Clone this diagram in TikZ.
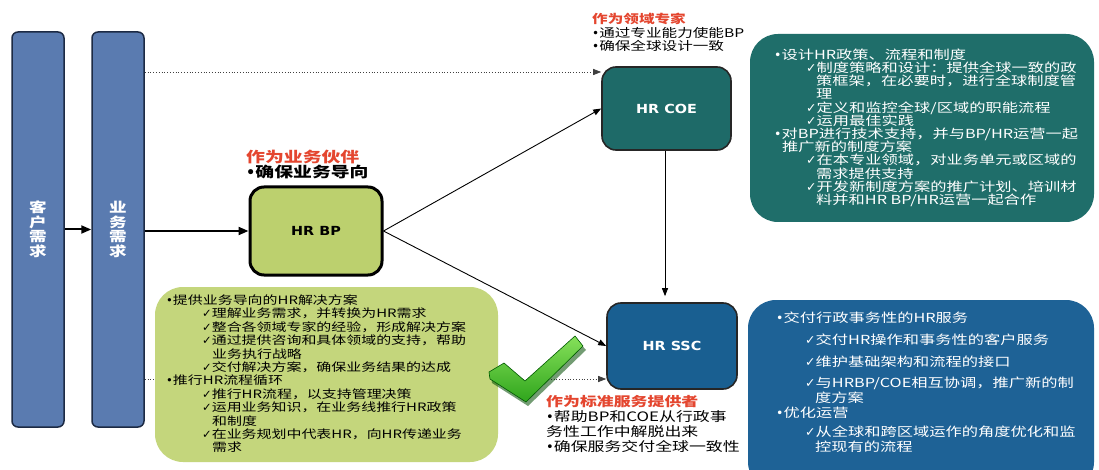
\documentclass[tikz,border=0pt]{standalone}
\usepackage{fontspec}
\usetikzlibrary{arrows.meta}
\newfontfamily\cjkA[FakeStretch=1.3]{Noto Sans CJK SC}
\newfontfamily\symf{DejaVu Sans}
\newfontfamily\latf[FakeStretch=1.15]{DejaVu Sans}
\newcommand{\ck}{{\symf ✓}}
\newcommand{\bu}{{\symf •}}
\newcommand{\ind}[1]{\hspace*{#1pt}}
\definecolor{barblue}{HTML}{5A7BB0}
\definecolor{bardark}{HTML}{1C2A44}
\definecolor{bpgreen}{HTML}{BCD06E}
\definecolor{bpdet}{HTML}{C4D67C}
\definecolor{coeteal}{HTML}{1E6A68}
\definecolor{coedet}{HTML}{1F6E6A}
\definecolor{sscblue}{HTML}{195F91}
\definecolor{sscdet}{HTML}{1E6296}
\definecolor{lblred}{HTML}{E4462F}
\definecolor{chkhi}{HTML}{86E05A}
\definecolor{chklo}{HTML}{2FA51C}
\begin{document}
\begin{tikzpicture}[x=1pt,y=-1pt,
  bar/.style={draw=bardark, line width=1.5pt, fill=barblue, rounded corners=6pt,
    minimum width=52pt, minimum height=395pt, inner sep=0pt, align=center,
    text=white, font=\cjkA\bfseries\fontsize{13.5}{14.5}\selectfont},
  bpbox/.style={draw=black, line width=3pt, fill=bpgreen, rounded corners=14pt,
    minimum width=132pt, minimum height=88pt, inner sep=0pt,
    font=\latf\bfseries\fontsize{12.5}{14}\selectfont},
  hrbox/.style={draw=black!85, line width=1.6pt, rounded corners=14pt, inner sep=0pt,
    text=white, font=\latf\bfseries\fontsize{12.5}{14}\selectfont},
  detail/.style={rounded corners=28pt, inner sep=0pt},
  txt/.style={inner sep=0pt, align=left, anchor=north west},
  thickarrow/.style={line width=2pt, -{Triangle[length=10pt,width=8pt]}},
  thinarrow/.style={line width=0.9pt, -{Triangle[length=8pt,width=6pt]}},
  dotarrow/.style={line width=0.8pt, dotted, black!75, -{Triangle[length=8pt,width=6pt]}}
]
\useasboundingbox (0,0) rectangle (1099,470);
\fill[white] (0,0) rectangle (1099,470);

% helper coordinates for horizontal levels
\coordinate (ytop) at (0,72);
\coordinate (ybot) at (0,379);
\coordinate (xv) at (665,0);

% bars
\node[bar] (bar1) at (38,229.5) {客\\户\\需\\求};
\node[bar] (bar2) at (118,229.5) {业\\务\\需\\求};

% main HR boxes
\node[bpbox] (bp) at (316,231) {HR BP};
\node[hrbox, fill=coeteal, minimum width=129pt, minimum height=83pt] (coe) at (666.5,108.5) {HR COE};
\node[hrbox, fill=sscblue, minimum width=130pt, minimum height=86pt] (ssc) at (672,346) {HR SSC};

% dotted connectors (behind detail box)
\draw[dotarrow] (bar2.east |- ytop) -- (coe.west |- ytop);
\draw[dotarrow] (bar2.east |- ybot) -- (ssc.west |- ybot);

% detail boxes
\node[detail, fill=bpdet, minimum width=343pt, minimum height=175pt] (bpd) at (326.5,374.5) {};
\node[detail, fill=coedet, minimum width=344pt, minimum height=188pt] (coed) at (922,128) {};
\begin{scope}
\clip (0,0) rectangle (1099,470);
\node[detail, fill=sscdet, minimum width=346pt, minimum height=190pt] (sscd) at (921,395) {};
\end{scope}

% solid connectors
\draw[thickarrow] (bar1.east) -- (bar2.west);
\draw[thickarrow] (bar2.east |- bp.west) -- (bp.west);
\draw[thinarrow] (bp.east) -- (coe.west);
\draw[thinarrow] (bp.east) -- (ssc.west);
\draw[thinarrow, shorten >=6pt] (xv |- coe.south) -- (xv |- ssc.north);

% labels
\node[txt, font=\cjkA\bfseries\fontsize{14.5}{15}\selectfont] (bplbl) at (246,150)
  {\textcolor{lblred}{作为业务伙伴}\\\bu 确保业务导向};
\node[txt, font=\cjkA\fontsize{12}{13.5}\selectfont] (coelbl) at (592,13)
  {\textcolor{lblred}{\bfseries 作为领域专家}\\\bu 通过专业能力使能BP\\\bu 确保全球设计一致};
\node[txt, font=\cjkA\fontsize{13}{15}\selectfont] (ssclbl) at (546,395.5)
  {\textcolor{lblred}{\bfseries 作为标准服务提供者}\\\bu 帮助BP和COE从行政事\\务性工作中解脱出来\\\bu 确保服务交付全球一致性};

% BP detail text
\node[txt, font=\cjkA\fontsize{11.5}{13.4}\selectfont] (bpt) at (166,294.5) {%
\bu 提供业务导向的HR解决方案\\
\ind{36}\ck 理解业务需求，并转换为HR需求\\
\ind{36}\ck 整合各领域专家的经验，形成解决方案\\
\ind{36}\ck 通过提供咨询和具体领域的支持，帮助\\
\ind{46}业务执行战略\\
\ind{36}\ck 交付解决方案，确保业务结果的达成\\
\bu 推行HR流程循环\\
\ind{36}\ck 推行HR流程，以支持管理决策\\
\ind{36}\ck 运用业务知识，在业务线推行HR政策\\
\ind{46}和制度\\
\ind{36}\ck 在业务规划中代表HR，向HR传递业务\\
\ind{46}需求};

% COE detail text
\node[txt, text=white, font=\cjkA\fontsize{12.5}{13.2}\selectfont] (coet) at (774,48.5) {%
\bu 设计HR政策、流程和制度\\
\ind{32}\ck 制度策略和设计：提供全球一致的政\\
\ind{42}策框架，在必要时，进行全球制度管\\
\ind{42}理\\
\ind{32}\ck 定义和监控全球/区域的职能流程\\
\ind{32}\ck 运用最佳实践\\
\bu 对BP进行技术支持，并与BP/HR运营一起\\
\ind{8}推广新的制度方案\\
\ind{32}\ck 在本专业领域，对业务单元或区域的\\
\ind{42}需求提供支持\\
\ind{32}\ck 开发新制度方案的推广计划、培训材\\
\ind{42}料并和HR BP/HR运营一起合作};

% SSC detail text
\node[txt, text=white, font=\cjkA\fontsize{12.5}{15}\selectfont] (ssct) at (776,312) {%
\bu 交付行政事务性的HR服务\\[7pt]
\ind{29}\ck 交付HR操作和事务性的客户服务\\[7pt]
\ind{29}\ck 维护基础架构和流程的接口\\[6pt]
\ind{29}\ck 与HRBP/COE相互协调，推广新的制\\
\ind{39}度方案\\
\bu 优化运营\\[4pt]
\ind{29}\ck 从全球和跨区域运作的角度优化和监\\
\ind{39}控现有的流程};

% green check mark
\fill[green!30!black, opacity=0.55] (491,376) -- (506,367) -- (527,385) -- (577,340) -- (586,350) -- (528,406) -- (492,383) -- cycle;
\shade[top color=chkhi, bottom color=chklo, draw=green!35!black, line width=0.6pt]
  (489,372) -- (504,363) -- (525,381) -- (575,336) -- (583,346) -- (526,402) -- (490,379) -- cycle;
\end{tikzpicture}
\end{document}
